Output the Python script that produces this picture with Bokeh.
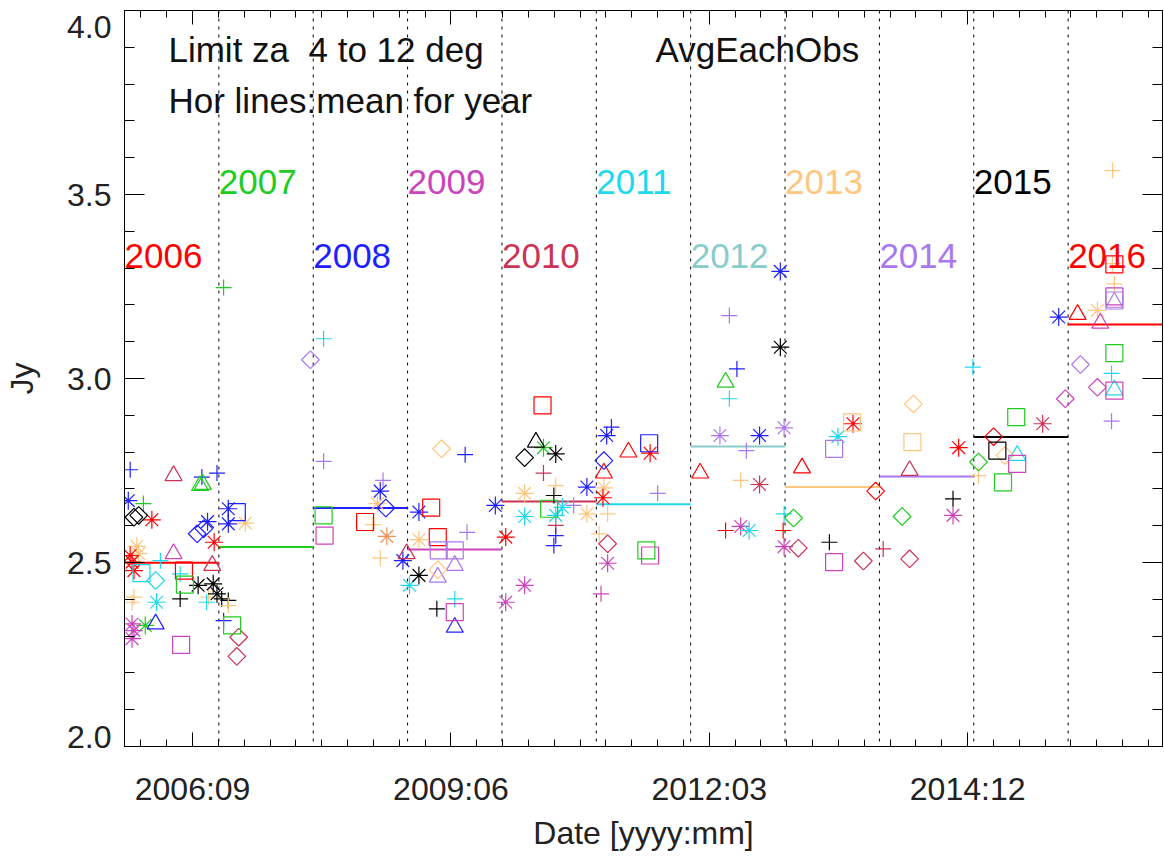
import numpy as np
from bokeh.plotting import figure
from bokeh.models import (ColumnDataSource, FixedTicker, LinearAxis, Range1d, Span, Label,
                          CustomJSTickFormatter)
from bokeh.core.properties import value
from bokeh.embed import file_html
from bokeh.resources import INLINE

FONT = "Liberation Sans"

PALETTE = {
    "red": "#ff0000", "green": "#20cc20", "blue": "#2020ff", "orchid": "#cc44bb",
    "crimson": "#cc3355", "cyan": "#20d8ee", "teal": "#88cccc", "orange": "#ffc67f",
    "lavender": "#aa78ee", "black": "#000000", "coral": "#f09258",
}

# ---------------- data (decimal year, Jy, colour) ----------------
cross_date = [2006.06, 2006.82, 2006.98, 2006.20, 2006.38, 2006.59, 2006.59, 2006.89, 2006.87, 2006.10,
              2006.08, 2007.03, 2007.10, 2007.10, 2007.05, 2007.05, 2008.11, 2008.11, 2008.63, 2008.74,
              2008.71, 2009.63, 2009.31, 2009.50, 2009.61, 2010.44, 2010.55, 2010.57, 2010.76, 2010.57,
              2010.57, 2010.55, 2011.16, 2011.65, 2011.12, 2011.03, 2011.05, 2012.41, 2012.49, 2012.41,
              2012.59, 2012.53, 2012.37, 2012.98, 2012.99, 2013.47, 2014.04, 2014.78, 2014.99, 2015.05,
              2016.47, 2016.47, 2016.49, 2016.46, 2016.46]
cross_jy = [2.752, 2.732, 2.743, 2.660, 2.505, 2.469, 2.401, 2.406, 2.392, 2.406,
            2.392, 2.401, 2.397, 2.383, 2.342, 3.247, 3.108, 2.775, 2.603, 2.723,
            2.512, 2.582, 2.374, 2.401, 2.793, 2.743, 2.682, 2.709, 2.655, 2.601,
            2.573, 2.546, 2.868, 2.688, 2.632, 2.578, 2.415, 3.171, 3.026, 2.945,
            2.804, 2.723, 2.587, 2.587, 2.632, 2.555, 2.537, 2.673, 3.031, 2.736,
            3.565, 3.312, 3.257, 3.014, 2.884]
cross_col = ["blue", "blue", "blue", "green", "cyan", "cyan", "black", "orange", "cyan", "orange",
             "orange", "black", "black", "orange", "blue", "green", "cyan", "lavender", "orange", "lavender",
             "orange", "lavender", "black", "cyan", "blue", "crimson", "black", "orange", "lavender", "crimson",
             "blue", "blue", "blue", "lavender", "orange", "orange", "orchid", "lavender", "blue", "cyan",
             "lavender", "orange", "red", "red", "cyan", "black", "crimson", "black", "cyan", "orange",
             "orange", "orange", "orange", "cyan", "lavender"]

ast_date = [2006.04, 2006.29, 2006.88, 2006.95, 2006.13, 2006.15, 2006.06, 2006.08, 2006.10, 2006.78,
            2006.94, 2006.98, 2006.34, 2006.22, 2006.08, 2006.10, 2006.08, 2007.10, 2007.10, 2007.28,
            2008.71, 2008.68, 2008.78, 2008.95, 2009.02, 2009.12, 2009.12, 2009.12, 2009.93, 2010.04,
            2010.04, 2010.24, 2010.44, 2010.57, 2010.24, 2010.90, 2010.24, 2010.57, 2010.64, 2010.90,
            2011.11, 2011.57, 2011.08, 2011.07, 2011.12, 2012.95, 2012.31, 2012.73, 2012.99, 2012.73,
            2012.53, 2012.62, 2012.99, 2012.95, 2013.72, 2013.56, 2014.84, 2014.78, 2015.73, 2015.90,
            2016.31]
ast_jy = [2.668, 2.616, 2.611, 2.555, 2.544, 2.524, 2.519, 2.501, 2.478, 2.438,
          2.442, 2.415, 2.392, 2.329, 2.333, 2.315, 2.293, 2.646, 2.605, 2.607,
          2.694, 2.660, 2.571, 2.505, 2.438, 2.465, 2.637, 2.562, 2.655, 2.569,
          2.392, 2.438, 2.812, 2.795, 2.688, 2.705, 2.625, 2.628, 2.650, 2.632,
          2.845, 2.797, 2.703, 2.676, 2.498, 3.085, 2.845, 2.845, 2.866, 2.712,
          2.598, 2.587, 2.543, 3.291, 2.877, 2.842, 2.812, 2.628, 2.877, 3.167,
          3.185]
ast_col = ["blue", "red", "blue", "red", "orange", "orange", "red", "red", "red", "black",
           "black", "black", "cyan", "green", "orchid", "orchid", "orchid", "blue", "blue", "orange",
           "blue", "orange", "coral", "blue", "cyan", "black", "blue", "orange", "blue", "red",
           "orchid", "orchid", "green", "black", "orange", "blue", "cyan", "cyan", "cyan", "orange",
           "blue", "red", "orange", "red", "orchid", "black", "lavender", "blue", "lavender", "crimson",
           "orchid", "cyan", "orchid", "blue", "red", "cyan", "red", "orchid", "crimson", "blue",
           "orange"]

tri_date = [2006.52, 2006.80, 2006.83, 2006.52, 2006.93, 2006.33, 2008.99, 2009.50, 2009.32, 2009.50,
            2010.36, 2011.34, 2011.08, 2012.37, 2012.10, 2013.18, 2014.32, 2015.46, 2016.10, 2016.34,
            2016.49, 2016.49]
tri_jy = [2.736, 2.709, 2.712, 2.524, 2.492, 2.333, 2.524, 2.492, 2.460, 2.324,
          2.827, 2.800, 2.743, 2.990, 2.743, 2.757, 2.750, 2.791, 3.174, 3.150,
          3.207, 2.969]
tri_col = ["crimson", "green", "green", "orchid", "crimson", "blue", "crimson", "lavender", "lavender", "blue",
           "black", "red", "red", "green", "red", "red", "crimson", "cyan", "red", "orchid",
           "lavender", "cyan"]

dia_date = [2006.10, 2006.15, 2006.77, 2006.84, 2006.33, 2007.21, 2007.19, 2007.97, 2008.77, 2009.32,
            2009.36, 2010.24, 2011.08, 2011.12, 2013.09, 2013.96, 2013.14, 2013.83, 2014.36, 2014.24,
            2014.32, 2015.05, 2015.21, 2015.33, 2015.97, 2016.13, 2016.31]
dia_jy = [2.623, 2.628, 2.578, 2.592, 2.451, 2.297, 2.245, 3.051, 2.648, 2.480,
          2.809, 2.785, 2.777, 2.551, 2.621, 2.694, 2.539, 2.504, 2.931, 2.625,
          2.510, 2.773, 2.842, 2.791, 2.945, 3.038, 2.976]
dia_col = ["black", "black", "blue", "blue", "cyan", "crimson", "crimson", "lavender", "blue", "orange",
           "orange", "black", "blue", "crimson", "green", "red", "crimson", "crimson", "orange", "green",
           "crimson", "green", "red", "orange", "orchid", "lavender", "orchid"]

sq_date = [2006.63, 2006.18, 2006.64, 2006.60, 2007.14, 2007.19, 2008.11, 2008.12, 2008.55, 2009.25,
           2009.32, 2009.33, 2009.50, 2009.50, 2010.43, 2010.50, 2011.56, 2011.53, 2011.57, 2013.71,
           2013.52, 2013.52, 2014.35, 2015.25, 2015.46, 2015.31, 2015.45, 2016.49, 2016.49, 2016.49,
           2016.49, 2016.49]
sq_jy = [2.478, 2.471, 2.440, 2.276, 2.329, 2.637, 2.628, 2.573, 2.610, 2.649,
         2.569, 2.533, 2.533, 2.365, 2.927, 2.646, 2.824, 2.533, 2.519, 2.881,
         2.809, 2.501, 2.827, 2.804, 2.768, 2.718, 2.895, 3.310, 3.223, 3.212,
         3.069, 2.967]
sq_col = ["red", "cyan", "green", "orchid", "green", "blue", "green", "orchid", "red", "red",
          "red", "lavender", "lavender", "orchid", "red", "green", "blue", "green", "orchid", "orange",
          "lavender", "orchid", "orange", "black", "orchid", "green", "green", "red", "orchid", "lavender",
          "green", "orchid"]

years = [2006, 2007, 2008, 2009, 2010, 2011, 2012, 2013, 2014, 2015, 2016]
year_means = [2.499, 2.542, 2.648, 2.535, 2.666, 2.658, 2.815, 2.705, 2.734, 2.841, 3.147]
year_colors = ["red", "green", "blue", "orchid", "crimson", "cyan", "teal", "orange", "lavender", "black", "red"]

tick_days = [0, 1000, 2000, 3000]          # Julian day - 2454000
tick_labels = ["2006:09", "2009:06", "2012:03", "2014:12"]
y_values = [2.0, 2.5, 3.0, 3.5, 4.0]
y_tick_labels = ["2.0", "2.5", "3.0", "3.5", "4.0"]
y_minor = [2.1, 2.2, 2.3, 2.4, 2.6, 2.7, 2.8, 2.9, 3.1, 3.2, 3.3, 3.4, 3.6, 3.7, 3.8, 3.9]


def to_day(yr):
    # decimal year -> days relative to JD 2454000 (2006-01-01 = JD 2453736.5)
    return (np.asarray(yr, dtype=float) - 2006.0) * 365.25 - 263.5


x_minor = [d for d in range(-200, 3800, 100) if d not in tick_days]

p = figure(width=1163, height=860, output_backend="svg", toolbar_location=None,
           x_range=Range1d(float(to_day(2006.0)), float(to_day(2017.0))), y_range=Range1d(2.0, 4.0),
           min_border_left=124, min_border_right=1, min_border_top=10, min_border_bottom=114,
           background_fill_color="white", border_fill_color="white")
p.xgrid.visible = False
p.ygrid.visible = False
p.outline_line_color = "black"
p.outline_line_width = 1

xt = FixedTicker(ticks=tick_days, minor_ticks=x_minor)
yt = FixedTicker(ticks=y_values, minor_ticks=y_minor)


def style_axis(ax, horiz, labels):
    ax.axis_line_color = "black"
    ax.axis_line_width = 1
    ax.major_tick_line_color = "black"
    ax.minor_tick_line_color = "black"
    ax.major_tick_out = 0
    ax.minor_tick_out = 0
    ax.major_tick_in = 14 if horiz else 20
    ax.minor_tick_in = 7 if horiz else 10
    ax.major_label_text_font = FONT
    ax.axis_label_text_font = FONT
    ax.axis_label_text_font_style = "normal"
    ax.axis_label_text_color = "#222222"
    ax.major_label_text_color = "#222222"
    if labels:
        ax.major_label_text_font_size = "32px"
        ax.axis_label_text_font_size = "32px"
    else:
        ax.major_label_text_font_size = "0px"
        ax.major_label_text_color = None
        ax.major_label_standoff = 0
        ax.axis_label = None


xa = p.xaxis[0]
xa.ticker = xt
xa.major_label_overrides = {d: s for d, s in zip(tick_days, tick_labels)}
xa.axis_label = "Date [yyyy:mm]"
style_axis(xa, True, True)
xa.major_label_standoff = 24
xa.axis_label_standoff = 5

# left axis: tick marks only
ya = p.yaxis[0]
ya.ticker = yt
style_axis(ya, False, False)

# left label axis: IDL shifts the end labels inside the axis extent
label_shift = {2.0: 10 / 368, 4.0: -16 / 368}
y_label_pos = [v + label_shift.get(v, 0.0) for v in y_values]
ylab = LinearAxis(ticker=FixedTicker(ticks=y_label_pos, minor_ticks=[]),
                  formatter=CustomJSTickFormatter(args=dict(pos=y_label_pos, labels=y_tick_labels), code="""
                      const i = pos.findIndex(v => Math.abs(v - tick) < 1e-6);
                      return i >= 0 ? labels[i] : "";
                  """))
style_axis(ylab, False, True)
ylab.axis_line_color = None
ylab.major_tick_in = 0
ylab.minor_tick_in = 0
ylab.major_label_standoff = 13
ylab.axis_label = "Jy"
ylab.axis_label_standoff = 24
p.add_layout(ylab, "left")

top = LinearAxis(ticker=xt)
style_axis(top, True, False)
p.add_layout(top, "above")
right = LinearAxis(ticker=yt)
style_axis(right, False, False)
p.add_layout(right, "right")

# dotted year boundaries
for yr in years:
    p.add_layout(Span(location=float(to_day(yr)), dimension="height", line_color="black",
                      line_width=1, line_dash="3 5", level="underlay"))

# yearly mean lines
p.segment(x0=to_day(years), x1=to_day(np.array(years) + 1), y0=year_means, y1=year_means,
          line_color=[PALETTE[c] for c in year_colors], line_width=2)

# observations
groups = [
    (cross_date, cross_jy, cross_col, "cross", 16, 0.0),
    (ast_date, ast_jy, ast_col, "asterisk", 18, 0.0),
    (tri_date, tri_jy, tri_col, "triangle", 17, 0.0),
    (dia_date, dia_jy, dia_col, "square", 12.5, np.pi / 4),
    (sq_date, sq_jy, sq_col, "square", 17, 0.0),
]
for dts, jys, cols, mk, sz, ang in groups:
    src = ColumnDataSource(dict(x=to_day(dts), y=jys, c=[PALETTE[c] for c in cols]))
    p.scatter("x", "y", source=src, marker=mk, size=sz, angle=ang, line_color="c",
              fill_color=None, line_width=1.2)

# year labels (even years low row, odd years high row)
lab_y = [3.332 if (y % 2 == 0) else 3.533 for y in years]
p.text(x=to_day(years), y=lab_y, text=[str(y) for y in years],
       text_color=[PALETTE[c] for c in year_colors], text_font=value(FONT), text_font_size="35px",
       text_align="left", text_baseline="alphabetic")

# annotations
for txt, xyr, yv in (("Limit za\u00a0 4 to 12 deg", 2006.466, 3.894),
                     ("Hor lines:mean for year", 2006.466, 3.755),
                     ("AvgEachObs", 2011.627, 3.894)):
    p.add_layout(Label(x=float(to_day(xyr)), y=yv, text=txt, text_align="left",
                       text_baseline="alphabetic", text_font=FONT, text_font_size="35px",
                       text_color="#111111"))

open("out.html", "w").write(file_html(p, INLINE))
